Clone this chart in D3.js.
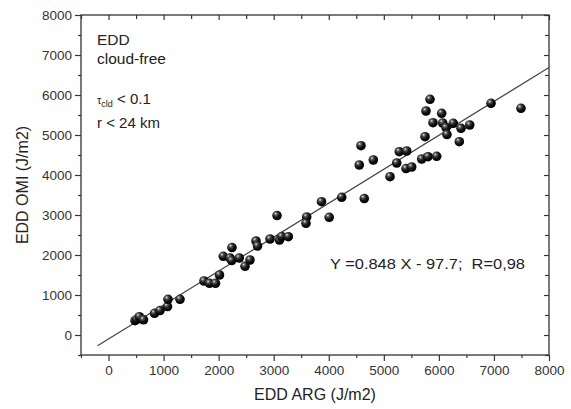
<!DOCTYPE html>
<html><head><meta charset="utf-8">
<script src="https://cdn.jsdelivr.net/npm/d3@7"></script>
<style>
body{margin:0;background:#fff;}
svg{display:block;font-family:"Liberation Sans",Arial,sans-serif;}
</style></head>
<body><svg id="c" width="571" height="409"></svg>
<script>
const xVals = [481,512,559,635,835,935,1071,1080,1298,1734,1834,1943,2015,2084,2242,2206,2237,2375,2479,2569,2678,2706,2933,3060,3105,3145,3265,3599,3586,3868,4008,4235,4645,4809,4554,4585,5112,5234,5281,5415,5403,5506,5688,5802,5960,5748,5766,5839,5893,6051,6069,6129,6147,6262,6371,6402,6560,6947,7491];
const yVals = [358,392,458,380,542,612,712,892,892,1350,1292,1292,1500,1967,2187,1925,1862,1925,1717,1875,2350,2225,2400,2987,2375,2462,2458,2950,2792,3332,2942,3442,3412,4375,4250,4732,3957,4300,4582,4600,4162,4200,4400,4457,4467,4957,5600,5892,5307,5542,5300,5187,5012,5292,4832,5167,5250,5792,5667];
const fit = {slope:0.848, intercept:-97.7, x0:-200, x1:8000};
const majorTicks = [0,1000,2000,3000,4000,5000,6000,7000,8000];
const minorTicks = [-500,500,1500,2500,3500,4500,5500,6500,7500];
const xTitle = "EDD ARG (J/m2)";
const yTitle = "EDD OMI (J/m2)";
const eqText = "Y =0.848 X - 97.7;  R=0,98";

const svg = d3.select("#c");
const L=81,R=549,T=15,B=355;
const x = d3.scaleLinear([-500,8000],[L,R]);
const y = d3.scaleLinear([-500,8000],[B,T]);

const defs = svg.append("defs");
const g = defs.append("radialGradient").attr("id","ball").attr("cx","0.38").attr("cy","0.35").attr("r","0.65").attr("fx","0.35").attr("fy","0.3");
g.append("stop").attr("offset","0").attr("stop-color","#e8e8e8");
g.append("stop").attr("offset","0.25").attr("stop-color","#555");
g.append("stop").attr("offset","0.6").attr("stop-color","#111");
g.append("stop").attr("offset","1").attr("stop-color","#000");

const axCol="#333";
function styleAxis(sel){
  sel.select(".domain").remove();
  sel.selectAll("line").attr("stroke",axCol).attr("stroke-width",1.2);
  sel.selectAll("text").attr("fill","#333").attr("font-size","13.5px").attr("font-family","Liberation Sans, Arial, sans-serif");
}
// bottom
svg.append("g").attr("transform",`translate(0,${B})`).call(d3.axisBottom(x).tickValues(majorTicks).tickSize(6).tickPadding(4).tickFormat(d3.format("d"))).call(styleAxis);
svg.append("g").attr("transform",`translate(0,${B})`).call(d3.axisBottom(x).tickValues(minorTicks).tickSize(3).tickFormat("")).call(styleAxis);
// left
svg.append("g").attr("transform",`translate(${L},0)`).call(d3.axisLeft(y).tickValues(majorTicks).tickSize(6).tickPadding(3).tickFormat(d3.format("d"))).call(styleAxis);
svg.append("g").attr("transform",`translate(${L},0)`).call(d3.axisLeft(y).tickValues(minorTicks).tickSize(3).tickFormat("")).call(styleAxis);
// top (inward)
svg.append("g").attr("transform",`translate(0,${T})`).call(d3.axisBottom(x).tickValues(majorTicks).tickSize(5).tickFormat("")).call(styleAxis);
svg.append("g").attr("transform",`translate(0,${T})`).call(d3.axisBottom(x).tickValues(minorTicks).tickSize(4).tickFormat("")).call(styleAxis);
// right (inward)
svg.append("g").attr("transform",`translate(${R},0)`).call(d3.axisLeft(y).tickValues(majorTicks).tickSize(5).tickFormat("")).call(styleAxis);
svg.append("g").attr("transform",`translate(${R},0)`).call(d3.axisLeft(y).tickValues(minorTicks).tickSize(4).tickFormat("")).call(styleAxis);

svg.append("rect").attr("x",L).attr("y",T).attr("width",R-L).attr("height",B-T).attr("fill","none").attr("stroke",axCol).attr("stroke-width",1.3);

// fit line
svg.append("line").attr("x1",x(fit.x0)).attr("y1",y(fit.slope*fit.x0+fit.intercept))
  .attr("x2",x(fit.x1)).attr("y2",y(fit.slope*fit.x1+fit.intercept))
  .attr("stroke","#444").attr("stroke-width",1.2);

// points
const pts = xVals.map((v,i)=>({x:v,y:yVals[i]}));
svg.append("g").selectAll("circle").data(pts).join("circle")
  .attr("cx",d=>x(d.x)).attr("cy",d=>y(d.y)).attr("r",4.8).attr("fill","url(#ball)");

// texts
const tc="#222";
svg.append("text").attr("x",97).attr("y",45).attr("font-size","15.5px").attr("fill",tc).text("EDD");
svg.append("text").attr("x",97).attr("y",64).attr("font-size","15.5px").attr("fill",tc).text("cloud-free");
const tau = svg.append("text").attr("x",97).attr("y",104).attr("font-size","15px").attr("fill",tc);
tau.append("tspan").attr("font-size","11px").text("τ");
tau.append("tspan").attr("font-size","9px").attr("dy",3).text("cld");
tau.append("tspan").attr("dy",-3).text(" < 0.1");
svg.append("text").attr("x",97).attr("y",128).attr("font-size","15px").attr("fill",tc).text("r < 24 km");
svg.append("text").attr("x",330).attr("y",269).attr("font-size","15px").attr("fill",tc)
  .attr("textLength",195).attr("lengthAdjust","spacingAndGlyphs").style("white-space","pre").text(eqText);

svg.append("text").attr("x",(L+R)/2).attr("y",400).attr("text-anchor","middle").attr("font-size","16px").attr("fill",tc).text(xTitle);
svg.append("text").attr("transform",`translate(28,${(T+B)/2}) rotate(-90)`).attr("text-anchor","middle").attr("font-size","16px").attr("fill",tc).text(yTitle);
</script></body></html>
